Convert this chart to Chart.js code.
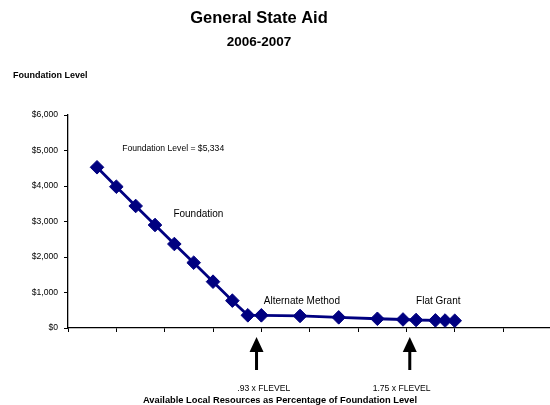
<!DOCTYPE html>
<html>
<head>
<meta charset="utf-8">
<script src="https://cdn.jsdelivr.net/npm/chart.js@4"></script>
<style>
  html, body { margin: 0; padding: 0; background: #fff; }
  #wrap { width: 550px; height: 405px; }
</style>
</head>
<body>
<div id="wrap"><canvas id="chart"></canvas></div>
<script>
"use strict";
// --- dados -------------------------------------------------------------------
const xValues   = [0.6, 1.0, 1.4, 1.8, 2.2, 2.6, 3.0, 3.4, 3.72, 4.0, 4.8, 5.6, 6.4, 6.93, 7.2, 7.6, 7.8, 8.0];
const aidValues = [4527, 3980, 3437, 2901, 2366, 1840, 1305, 770, 357, 357, 340, 300, 260, 240, 225, 215, 210, 205];
const yTicks    = [0, 1000, 2000, 3000, 4000, 5000, 6000];
const yTickLabels = ["$0", "$1,000", "$2,000", "$3,000", "$4,000", "$5,000", "$6,000"];
const xTicks    = [0, 1, 2, 3, 4, 5, 6, 7, 8, 9];

// rótulos dentro do gráfico (x, y em unidades dos dados)
const noteText = ["Foundation Level = $5,334", "Foundation", "Alternate Method", "Flat Grant"];
const noteX    = [1.12, 2.18, 4.05, 7.2];
const noteY    = [5040, 3200, 760, 740];
const noteSize = [8.6, 10, 10, 10];

// setas sob o eixo
const arrowX     = [3.9, 7.07];
const arrowLabel = [".93 x FLEVEL", "1.75 x FLEVEL"];
const arrowLabelX = [4.05, 6.9];

const NAVY = "#000080";
const FONT = "Arial, 'Liberation Sans', sans-serif";

// --- anotações ---------------------------------------------------------------
const notes = {
  id: "notes",
  afterDraw(chart) {
    const ctx = chart.ctx, xs = chart.scales.x, ys = chart.scales.y;
    ctx.save();
    ctx.fillStyle = "#000";
    ctx.textBaseline = "middle";

    // títulos
    ctx.textAlign = "center";
    ctx.font = "bold 16.5px " + FONT;
    ctx.fillText("General State Aid", 259, 18);
    ctx.font = "bold 13.5px " + FONT;
    ctx.fillText("2006-2007", 259, 42);
    ctx.textAlign = "left";
    ctx.font = "bold 9px " + FONT;
    ctx.fillText("Foundation Level", 13, 76);

    // rótulos das faixas
    noteText.forEach((t, i) => {
      ctx.font = noteSize[i] + "px " + FONT;
      ctx.fillText(t, xs.getPixelForValue(noteX[i]), ys.getPixelForValue(noteY[i]));
    });

    // setas
    const base = chart.chartArea.bottom;
    arrowX.forEach((v, i) => {
      const px = xs.getPixelForValue(v);
      ctx.fillRect(px - 1.5, base + 22, 3, 20);
      ctx.beginPath();
      ctx.moveTo(px, base + 9);
      ctx.lineTo(px + 7, base + 24);
      ctx.lineTo(px - 7, base + 24);
      ctx.closePath();
      ctx.fill();
      ctx.textAlign = "center";
      ctx.font = "8.6px " + FONT;
      ctx.fillText(arrowLabel[i], xs.getPixelForValue(arrowLabelX[i]), base + 61);
    });

    ctx.textAlign = "center";
    ctx.font = "bold 9.3px " + FONT;
    ctx.fillText("Available Local Resources as Percentage of Foundation Level", 280, base + 72);
    ctx.restore();
  }
};

// --- gráfico -----------------------------------------------------------------
new Chart(document.getElementById("chart"), {
  type: "line",
  data: {
    datasets: [{
      data: xValues.map((x, i) => ({ x, y: aidValues[i] })),
      borderColor: NAVY, backgroundColor: NAVY,
      borderWidth: 2.8,
      pointStyle: "rectRot", pointRadius: 6.8,
      pointBorderWidth: 1, pointBorderColor: NAVY, pointBackgroundColor: NAVY,
      tension: 0
    }]
  },
  options: {
    responsive: true, maintainAspectRatio: false, animation: false,
    layout: { autoPadding: false, padding: { left: 0, top: 115, right: 1, bottom: 0 } },
    plugins: { legend: { display: false }, tooltip: { enabled: false }, title: { display: false } },
    scales: {
      x: {
        type: "linear", min: 0, max: 9.95,
        afterBuildTicks: (s) => { s.ticks = xTicks.map((v) => ({ value: v })); },
        afterFit: (s) => { s.height = 77; s.paddingLeft = 0; s.paddingRight = 0; },
        ticks: { callback: () => "" },
        grid: { drawOnChartArea: false, drawTicks: true, tickLength: 4, color: "#000", lineWidth: 1 },
        border: { color: "#000", width: 1.3 }
      },
      y: {
        min: 0, max: 6000,
        afterBuildTicks: (s) => { s.ticks = yTicks.map((v) => ({ value: v })); },
        afterFit: (s) => { s.width = 68; },
        ticks: {
          color: "#000", padding: 6,
          font: { family: FONT, size: 8.6 },
          callback: (v) => yTickLabels[yTicks.indexOf(v)]
        },
        grid: { drawOnChartArea: false, drawTicks: true, tickLength: 4, color: "#000", lineWidth: 1 },
        border: { color: "#000", width: 1.3 }
      }
    }
  },
  plugins: [notes]
});
</script>
</body>
</html>
